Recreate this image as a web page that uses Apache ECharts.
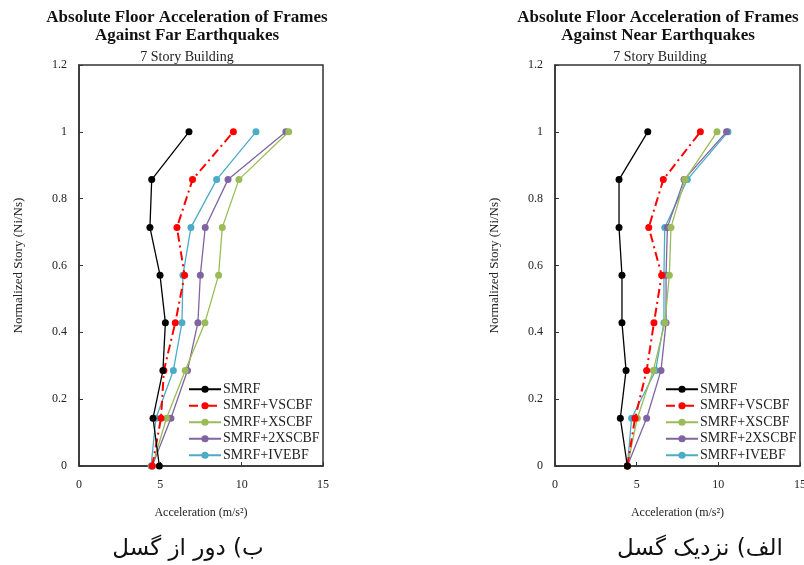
<!DOCTYPE html>
<html>
<head>
<meta charset="utf-8">
<script src="https://cdn.jsdelivr.net/npm/echarts@6/dist/echarts.min.js"></script>
<style>
  html, body { margin: 0; padding: 0; background: #fff; }
  #main { width: 804px; height: 565px; }
</style>
</head>
<body>
<div id="main"></div>
<script>
// normalized story levels (Ni/Ns)
const stories = [0, 0.143, 0.286, 0.429, 0.571, 0.714, 0.857, 1];
const seriesNames = ['SMRF', 'SMRF+VSCBF', 'SMRF+XSCBF', 'SMRF+2XSCBF', 'SMRF+IVEBF'];
const xTicks = [0, 5, 10, 15];

// far-fault accelerations (m/s2), one value per story level
const farSMRF   = [4.94, 4.55, 5.16, 5.31, 4.98, 4.36, 4.47, 6.76];
const farVSCBF  = [4.5, 5.04, 5.22, 5.92, 6.49, 6.02, 6.98, 9.49];
const farXSCBF  = [4.5, 5.38, 6.53, 7.74, 8.58, 8.81, 9.83, 12.89];
const far2XSCBF = [4.5, 5.65, 6.67, 7.31, 7.46, 7.76, 9.16, 12.72];
const farIVEBF  = [4.43, 4.73, 5.8, 6.33, 6.39, 6.88, 8.46, 10.88];

// near-fault accelerations (m/s2)
const nearSMRF   = [4.43, 4.0, 4.35, 4.1, 4.1, 3.92, 3.92, 5.68];
const nearVSCBF  = [4.43, 4.9, 5.61, 6.06, 6.53, 5.74, 6.63, 8.9];
const nearXSCBF  = [4.43, 5.04, 6.02, 6.73, 7.0, 7.1, 7.96, 9.92];
const near2XSCBF = [4.43, 5.61, 6.49, 6.8, 6.8, 6.88, 7.9, 10.5];
const nearIVEBF  = [4.43, 4.69, 6.16, 6.67, 6.67, 6.72, 8.1, 10.59];

const colors = ['#000000', '#ff0000', '#9bbb59', '#8064a2', '#4bacc6'];
const serif = 'Liberation Serif';

function pairs(vals) {
  return vals.map((v, i) => [v, stories[i]]);
}

function makeSeries(sets, idx) {
  return sets.map((vals, i) => ({
    name: seriesNames[i],
    type: 'line',
    xAxisIndex: idx,
    yAxisIndex: idx,
    data: pairs(vals),
    symbol: 'circle',
    symbolSize: 7,
    color: colors[i],
    lineStyle: i === 1
      ? { width: 2, type: [9, 4, 2, 4] }
      : { width: 1.3, type: 'solid' },
    animation: false,
    z: 10 - i
  }));
}

function makeX(idx) {
  return {
    type: 'value', gridIndex: idx, min: 0, max: 15, interval: 5,
    name: 'Acceleration (m/s²)', nameLocation: 'middle', nameGap: 41,
    nameTextStyle: { fontFamily: serif, fontSize: 12, color: '#222' },
    axisLine: { show: true, lineStyle: { color: '#333', width: 1.5 } },
    axisTick: { show: true, inside: true, length: 4, lineStyle: { color: '#333' } },
    axisLabel: { fontFamily: serif, fontSize: 12, color: '#222', margin: 13,
      formatter: v => xTicks.includes(v) ? String(v) : '' },
    splitLine: { show: false }
  };
}

function makeY(idx) {
  return {
    type: 'value', gridIndex: idx, min: 0, max: 1.2, interval: 0.2,
    name: 'Normalized Story (Ni/Ns)', nameLocation: 'middle', nameGap: 54,
    nameTextStyle: { fontFamily: serif, fontSize: 13, color: '#222' },
    axisLine: { show: true, lineStyle: { color: '#333', width: 1.5 } },
    axisTick: { show: true, inside: true, length: 4, lineStyle: { color: '#333' } },
    axisLabel: { fontFamily: serif, fontSize: 12, color: '#222', margin: 12,
      formatter: v => String(Math.round(v * 10) / 10) },
    splitLine: { show: false }
  };
}

function makeLegend(left) {
  return {
    left: left, top: 377, orient: 'vertical',
    itemWidth: 32, itemHeight: 9, itemGap: 2,
    data: seriesNames,
    textStyle: { fontFamily: serif, fontSize: 14, lineHeight: 14.5, color: '#222', padding: [0, 0, 0, -3] },
    selectedMode: false
  };
}

const titleStyle = { fontFamily: serif, fontSize: 17, fontWeight: 'bold', color: '#111', lineHeight: 18 };
const subStyle = { fontFamily: serif, fontSize: 14, fontWeight: 'normal', color: '#222' };
const captionStyle = { fontFamily: 'DejaVu Sans', fontSize: 23, fontWeight: 'normal', color: '#111' };

const option = {
  backgroundColor: '#fff',
  title: [
    { text: 'Absolute Floor Acceleration of Frames\nAgainst Far Earthquakes', left: 182, top: 4, textAlign: 'center', textStyle: titleStyle },
    { text: '7 Story Building', left: 182, top: 45, textAlign: 'center', textStyle: subStyle },
    { text: 'Absolute Floor Acceleration of Frames\nAgainst Near Earthquakes', left: 653, top: 4, textAlign: 'center', textStyle: titleStyle },
    { text: '7 Story Building', left: 655, top: 45, textAlign: 'center', textStyle: subStyle },
    { text: 'ب) دور از گسل', left: 183, top: 533, textAlign: 'center', textStyle: captionStyle },
    { text: 'الف) نزدیک گسل', left: 695, top: 533, textAlign: 'center', textStyle: captionStyle }
  ],
  grid: [
    { left: 79, top: 65, width: 244, height: 401, show: true, borderColor: '#333', borderWidth: 1.5, backgroundColor: 'transparent', outerBoundsMode: 'none' },
    { left: 555, top: 65, width: 245, height: 401, show: true, borderColor: '#333', borderWidth: 1.5, backgroundColor: 'transparent', outerBoundsMode: 'none' }
  ],
  legend: [makeLegend(183), makeLegend(660)],
  xAxis: [makeX(0), makeX(1)],
  yAxis: [makeY(0), makeY(1)],
  series: makeSeries([farSMRF, farVSCBF, farXSCBF, far2XSCBF, farIVEBF], 0)
    .concat(makeSeries([nearSMRF, nearVSCBF, nearXSCBF, near2XSCBF, nearIVEBF], 1))
};

const chart = echarts.init(document.getElementById('main'), null, { renderer: 'canvas' });
chart.setOption(option);
</script>
</body>
</html>
